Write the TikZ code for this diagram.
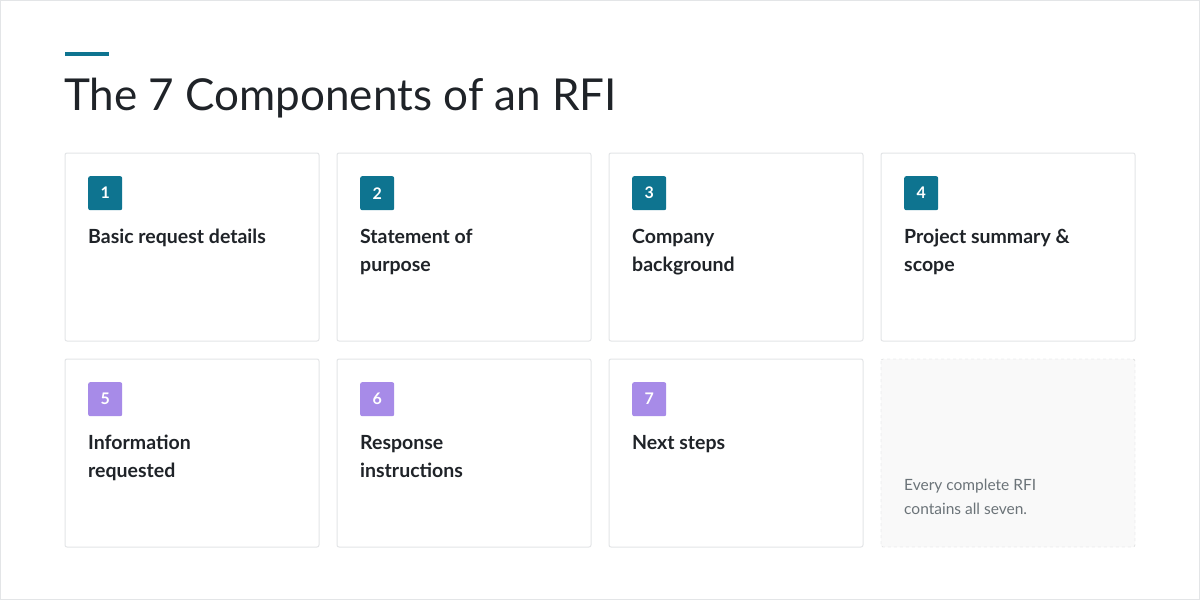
\documentclass[tikz,border=0pt]{standalone}
\usepackage{fontspec}
\setmainfont{Lato}
\usetikzlibrary{positioning}
\definecolor{teal}{HTML}{0E7490}
\definecolor{lilac}{HTML}{A78BE8}
\definecolor{ink}{HTML}{1F2328}
\definecolor{frame}{HTML}{E3E5E7}
\definecolor{muted}{HTML}{6B7378}
\tikzset{
  card/.style={draw=frame, fill=white, rounded corners=2pt, line width=1pt},
  badge/.style={rounded corners=2pt, minimum size=34pt, inner sep=0pt, text=white,
    font=\fontsize{16}{16}\selectfont\bfseries},
  label/.style={anchor=north west, inner sep=0pt, align=left, text=ink,
    font=\fontsize{19.5}{28}\selectfont\bfseries}
}
\begin{document}
\begin{tikzpicture}[x=1pt, y=-1pt]
\useasboundingbox (0,0) rectangle (1200,600);
\fill[white] (0,0) rectangle (1200,600);
\draw[frame, line width=1pt] (0.5,0.5) rectangle (1199.5,599.5);

% Title
\fill[teal] (65,52) rectangle (109,56);
\node (title) [anchor=base west, inner sep=0pt, text=ink,
  font=\fontsize{44}{44}\selectfont] at (64,110) {The 7 Components of an RFI};

% Cards
\foreach \n/\x/\y/\col/\txt in {
  1/65/153/teal/{Basic request details},
  2/337/153/teal/{Statement of\\purpose},
  3/609/153/teal/{Company\\background},
  4/881/153/teal/{Project summary \&\\scope},
  5/65/359/lilac/{Information\\requested},
  6/337/359/lilac/{Response\\instructions},
  7/609/359/lilac/{Next steps}} {
  \draw[card] (\x,\y) rectangle ++(254,188);
  \node (badge\n) [badge, fill=\col, anchor=north west] at (\x+23,\y+23) {\n};
  \node (label\n) [label] at (\x+23,\y+76) {\txt};
}

% Closing note
\draw[frame!80!gray, dashed, fill=gray!5, rounded corners=2pt] (881,359) rectangle ++(254,188);
\node (note) [anchor=north west, inner sep=0pt, align=left, text=muted,
  font=\fontsize{15.5}{24}\selectfont] at (904,479) {Every complete RFI\\contains all seven.};
\end{tikzpicture}
\end{document}
